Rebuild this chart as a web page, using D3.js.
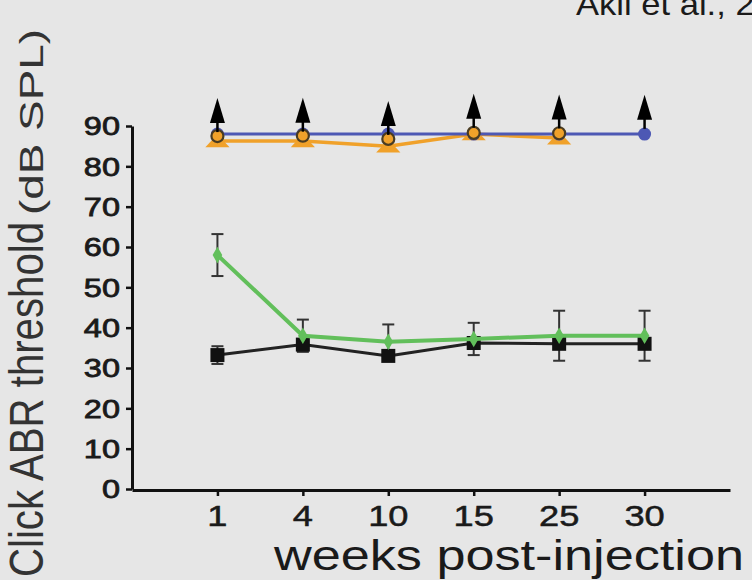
<!DOCTYPE html>
<html>
<head>
<meta charset="utf-8">
<script src="https://cdnjs.cloudflare.com/ajax/libs/d3/7.8.5/d3.min.js"></script>
<style>
  body { margin: 0; background: #e6e6e6; }
  svg { display: block; font-family: "Liberation Sans", Arial, sans-serif; }
</style>
</head>
<body>
<svg id="chart" width="752" height="580"></svg>
<script>
// weeks post-injection (categories)
const weeks = ["1", "4", "10", "15", "25", "30"];
const yTicks = [0, 10, 20, 30, 40, 50, 60, 70, 80, 90];

// thresholds, dB SPL
const blueVals = [88, 88, 88, 88, 88, 88];
const orangeVals = [86.3, 86.3, 85, 88, 87];          // triangles + line, weeks 1..25
const orangeDotVals = [87.5, 87.6, 86.8, 88.3, 88.2]; // outlined circles, weeks 1..25
const greenVals = [58, 38, 36.5, 37.2, 38, 38];
const greenErr = [5.2, 4, 4.3, 4, 6.2, 6.2];
const blackVals = [33.2, 35.8, 33, 36.2, 36, 36];
const blackErr = [2.2, 0, 0, 0, 0, 0];
// no response at max level -> arrow sitting on top marker
const arrowVals = [87.5, 87.6, 86.8, 88.6, 88.4, 88.3];

const svg = d3.select("#chart");

const x = d3.scalePoint()
  .domain(weeks)
  .range([132, 730])
  .padding(1);

const y = d3.scaleLinear()
  .domain([0, 90])
  .range([489, 126]);

const colors = {
  blue: "#4d58b4",
  orange: "#f0a12a",
  green: "#62bf5b",
  black: "#111"
};

svg.append("rect").attr("width", 752).attr("height", 580).attr("fill", "#e6e6e6");

// axes
const xAxis = g => g
  .attr("transform", `translate(0,${y(0) + 1})`)
  .call(d3.axisBottom(x).tickSize(6).tickSizeOuter(0).tickFormat(""))
  .call(g => g.select(".domain").attr("stroke", "#111").attr("stroke-width", 3))
  .call(g => g.selectAll(".tick line").attr("stroke", "#111").attr("stroke-width", 2.5));

const yAxis = g => g
  .attr("transform", `translate(132,0)`)
  .call(d3.axisLeft(y).tickValues(yTicks).tickSize(6).tickSizeOuter(0).tickFormat(""))
  .call(g => g.select(".domain").attr("stroke", "#111").attr("stroke-width", 3))
  .call(g => g.selectAll(".tick line").attr("stroke", "#111").attr("stroke-width", 2.5));

svg.append("g").call(yAxis);
svg.append("g").call(xAxis);

// tick labels (source figure is stretched sideways a bit)
svg.append("g").selectAll("text")
  .data(yTicks)
  .join("text")
  .attr("transform", d => `translate(120,${y(d)}) scale(1.25,1)`)
  .attr("text-anchor", "end")
  .attr("dy", "0.36em")
  .attr("font-size", 26)
  .attr("fill", "#1a1a1a")
  .attr("stroke", "#1a1a1a")
  .attr("stroke-width", 0.8)
  .text(d => d);

svg.append("g").selectAll("text")
  .data(weeks)
  .join("text")
  .attr("transform", d => `translate(${x(d)},526) scale(1.25,1)`)
  .attr("text-anchor", "middle")
  .attr("font-size", 29)
  .attr("fill", "#1a1a1a")
  .attr("stroke", "#1a1a1a")
  .attr("stroke-width", 0.5)
  .text(d => d);

// axis titles
svg.append("text")
  .attr("x", 274)
  .attr("y", 570)
  .attr("font-size", 42)
  .attr("fill", "#1a1a1a")
  .attr("textLength", 470)
  .attr("lengthAdjust", "spacingAndGlyphs")
  .text("weeks post-injection");

svg.append("text")
  .attr("transform", "translate(43,577) scale(1.2,1) rotate(-90)")
  .attr("font-size", 40)
  .attr("fill", "#333")
  .attr("textLength", 355)
  .attr("lengthAdjust", "spacingAndGlyphs")
  .text("Click ABR threshold");

svg.append("text")
  .attr("transform", "translate(43,215) scale(1.2,1) rotate(-90)")
  .attr("font-size", 27)
  .attr("fill", "#333")
  .attr("textLength", 186)
  .attr("lengthAdjust", "spacingAndGlyphs")
  .text("(dB SPL)");

// citation, cropped by the top edge like the source
svg.append("text")
  .attr("transform", "translate(576,15) scale(1.08,1)")
  .attr("font-size", 32)
  .attr("fill", "#1a1a1a")
  .text("Akil et al., 2019");

const plot = svg.append("g");
const line = d3.line().x(d => x(d[0])).y(d => y(d[1]));
const pairs = vals => vals.map((v, i) => [weeks[i], v]);

// error bars
function errBars(vals, errs) {
  const data = vals.map((v, i) => ({ w: weeks[i], v, e: errs[i] })).filter(d => d.e > 0);
  const g = plot.append("g").attr("stroke", "#333").attr("stroke-width", 2);
  g.selectAll(".stem").data(data).join("line")
    .attr("x1", d => x(d.w)).attr("x2", d => x(d.w))
    .attr("y1", d => y(d.v - d.e)).attr("y2", d => y(d.v + d.e));
  g.selectAll(".capHi").data(data).join("line")
    .attr("x1", d => x(d.w) - 6).attr("x2", d => x(d.w) + 6)
    .attr("y1", d => y(d.v + d.e)).attr("y2", d => y(d.v + d.e));
  g.selectAll(".capLo").data(data).join("line")
    .attr("x1", d => x(d.w) - 6).attr("x2", d => x(d.w) + 6)
    .attr("y1", d => y(d.v - d.e)).attr("y2", d => y(d.v - d.e));
}
errBars(greenVals, greenErr);
errBars(blackVals, blackErr);

// black series
plot.append("path").attr("d", line(pairs(blackVals)))
  .attr("fill", "none").attr("stroke", "#222").attr("stroke-width", 3);
plot.selectAll(".sq").data(pairs(blackVals)).join("rect")
  .attr("x", d => x(d[0]) - 7).attr("y", d => y(d[1]) - 7)
  .attr("width", 14).attr("height", 14).attr("fill", colors.black);

// green series
plot.append("path").attr("d", line(pairs(greenVals)))
  .attr("fill", "none").attr("stroke", colors.green).attr("stroke-width", 4);
plot.selectAll(".dia").data(pairs(greenVals)).join("path")
  .attr("transform", d => `translate(${x(d[0])},${y(d[1])})`)
  .attr("d", d3.symbol(d3.symbolDiamond, 80))
  .attr("fill", colors.green);

// orange series (triangles)
plot.append("path").attr("d", line(pairs(orangeVals)))
  .attr("fill", "none").attr("stroke", colors.orange).attr("stroke-width", 3.5);
plot.selectAll(".tri").data(pairs(orangeVals)).join("path")
  .attr("transform", d => `translate(${x(d[0])},${y(d[1]) + 2}) scale(1.3,0.8)`)
  .attr("d", d3.symbol(d3.symbolTriangle, 150))
  .attr("fill", colors.orange);

// blue series
plot.append("path").attr("d", line(pairs(blueVals)))
  .attr("fill", "none").attr("stroke", colors.blue).attr("stroke-width", 3);
plot.selectAll(".bc").data(pairs(blueVals)).join("circle")
  .attr("cx", d => x(d[0])).attr("cy", d => y(d[1]))
  .attr("r", 6.5).attr("fill", colors.blue);

// orange outlined circles
plot.selectAll(".oc").data(pairs(orangeDotVals)).join("circle")
  .attr("cx", d => x(d[0])).attr("cy", d => y(d[1]))
  .attr("r", 6).attr("fill", colors.orange)
  .attr("stroke", "#4a3c22").attr("stroke-width", 2.2);

// up arrows
const arrows = plot.append("g");
arrows.selectAll("line").data(pairs(arrowVals)).join("line")
  .attr("x1", d => x(d[0])).attr("x2", d => x(d[0]))
  .attr("y1", d => y(d[1]) - 4).attr("y2", d => y(d[1]) - 16)
  .attr("stroke", "#000").attr("stroke-width", 2.5);
arrows.selectAll("path").data(pairs(arrowVals)).join("path")
  .attr("d", d => {
    const cx = x(d[0]), base = y(d[1]) - 13;
    return `M${cx - 7.5},${base}L${cx},${base - 25}L${cx + 7.5},${base}Z`;
  })
  .attr("fill", "#000");
</script>
</body>
</html>
